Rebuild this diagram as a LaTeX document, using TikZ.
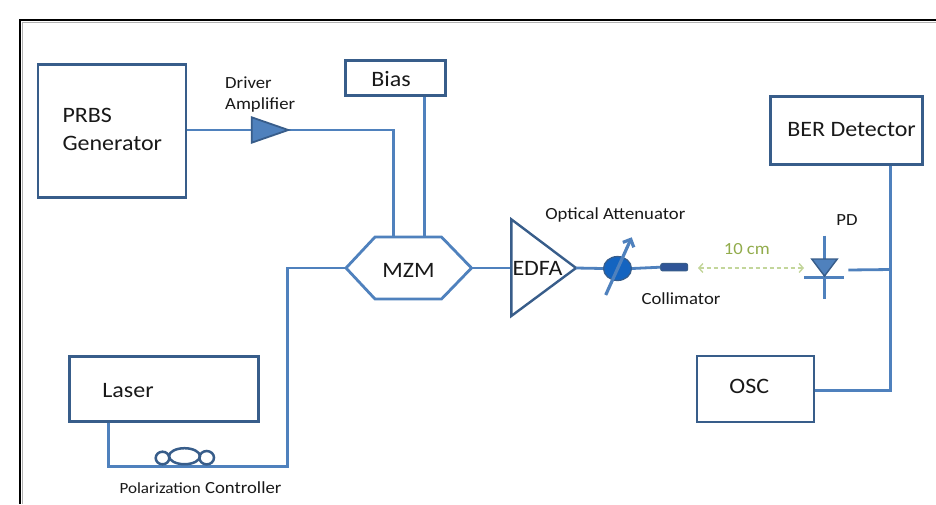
\documentclass[tikz,border=0pt]{standalone}
\usepackage{fontspec}
\setmainfont{Carlito}
\usetikzlibrary{arrows.meta,shapes.geometric}
\definecolor{lineblue}{RGB}{79,129,189}
\definecolor{boxblue}{RGB}{56,93,138}
\definecolor{txt}{RGB}{25,25,25}
\definecolor{attfill}{RGB}{20,100,192}
\definecolor{colfill}{RGB}{47,85,151}
\definecolor{dashgreen}{RGB}{195,214,155}
\definecolor{olivetxt}{RGB}{146,172,76}
\begin{document}
\begin{tikzpicture}[x=1pt,y=-1pt,
 box/.style={draw=boxblue,line width=2.8pt,fill=white,inner sep=0pt},
 big/.style={text=txt,font=\fontsize{22}{28}\selectfont,xscale=1.09,inner sep=0pt},
 small/.style={text=txt,font=\fontsize{17}{21}\selectfont,xscale=1.1,inner sep=0pt},
 wire/.style={draw=lineblue,line width=2.8pt,line join=miter},
]
\useasboundingbox (0,0) rectangle (936,504);
\fill[white] (0,0) rectangle (936,504);
% frame
\draw[black,line width=1.4pt] (936,20) -- (20,20) -- (20,504);
\draw[gray!60,line width=1.6pt] (936,22.6) -- (22.6,22.6) -- (22.6,504);

% boxes
\node[box,minimum width=148,minimum height=133] (prbs) at (112,131) {};
\node[box,minimum width=100,minimum height=35] (bias) at (395.5,78) {};
\node[box,minimum width=152.5,minimum height=68] (ber) at (846.6,130.8) {};
\node[box,minimum width=117,minimum height=66] (osc) at (755.5,389) {};
\node[box,minimum width=189,minimum height=65] (laser) at (163.8,388.7) {};

% coordinates
\coordinate (ampin) at (251.7,130);
\coordinate (ampout) at (288.3,130);
\coordinate (mzmA) at (393.3,238);
\coordinate (mzmB) at (424.3,238);
\coordinate (mzmL) at (346,268);
\coordinate (mzmR) at (471.5,268);
\coordinate (edfaL) at (511.3,268);
\coordinate (edfaR) at (576,268);
\coordinate (attA) at (605.7,295);
\coordinate (attB) at (631.7,237.3);
\coordinate (dA) at (698,268);
\coordinate (dB) at (804,268);
\coordinate (pdtop) at (824.3,235.7);
\coordinate (pdbot) at (824.3,299);
\coordinate (pdout) at (848.3,270);
\coordinate (jn) at (890.7,269.5);
\coordinate (corner) at (890.7,390.7);
\coordinate (lb) at (108.3,466.7);
\coordinate (lc) at (287.3,466.7);
\coordinate (lu) at (287.3,268);

% wires
\draw[wire] (prbs.east |- ampin) -- (ampin);
\draw[wire] (ampout) -| (mzmA);
\draw[wire] (bias.south -| mzmB) -- (mzmB);
\draw[wire] (mzmR) -- (edfaL);
\draw[wire] (laser.south -| lb) -- (lb) -- (lc) -- (lu) -- (mzmL);
\draw[wire] (ber.south -| jn) -- (corner) -- (corner -| osc.east);
\draw[wire] (pdout) -- (jn);

% driver amplifier
\draw[fill=lineblue,draw=boxblue,line width=1.8pt,line join=miter] (251.7,117.3) -- (ampout) -- (251.7,142.7) -- cycle;

% MZM
\draw[wire] (mzmL) -- (375,237) -- (441.5,237) -- (mzmR) -- (441.5,299) -- (375,299) -- cycle;

% EDFA
\draw[draw=boxblue,line width=2.4pt,fill=white,line join=miter] (511.3,219.3) -- (edfaR) -- (511.3,316) -- cycle;

% attenuator
\node[ellipse,draw=boxblue,fill=attfill,line width=1.2pt,minimum width=28,minimum height=24,inner sep=0pt] (att) at (617.5,268.5) {};
\draw[wire] (edfaR) -- (att.west);
\draw[lineblue,line width=3.2pt,-{Straight Barb[length=6pt,width=12pt]}] (attA) -- (attB);

% collimator
\node[draw=boxblue,fill=colfill,rounded corners=2pt,line width=1pt,minimum width=27,minimum height=7.5,inner sep=0pt] (col) at (674.2,267.2) {};
\draw[wire] (att.east) -- (col.west);

% distance arrow
\draw[dashgreen,line width=1.4pt,dash pattern=on 4pt off 3pt,{Straight Barb[length=4pt,width=9pt]}-{Straight Barb[length=4pt,width=9pt]}] (dA) -- (dB);

% photodiode
\draw[wire] (pdtop) -- (pdbot);
\draw[wire] (804,277.3) -- (844,277.3);
\draw[fill=lineblue,draw=boxblue,line width=1.4pt,line join=miter] (811.7,259) -- (837.3,259) -- (824.5,276) -- cycle;

% polarization controller
\draw[boxblue,line width=2.5pt] (162.5,458) circle[x radius=6.8,y radius=6.3];
\draw[boxblue,line width=2.5pt] (206.7,457.7) circle[x radius=7.3,y radius=6.7];
\draw[boxblue,line width=2.5pt] (184.5,456.2) circle[x radius=15.5,y radius=8];

% texts
\node[big,align=left,anchor=west] (prbst) at (62.3,129) {PRBS\\Generator};
\node[big] (biast) at (391,79) {Bias};
\node[big] (bert) at (851.6,130) {BER Detector};
\node[big] (osct) at (749.3,386) {OSC};
\node[big] (lasert) at (128,391) {Laser};
\node[big] (mzmt) at (408.5,270) {MZM};
\node[big] (edfat) at (537.5,268) {EDFA};
\node[small,align=left,anchor=west] (drv) at (225,95) {Driver\\Amplifier};
\node[small] (oatt) at (615.3,215) {Optical Attenuator};
\node[small] (coll) at (681,299) {Collimator};
\node[small] (pdt) at (847,220) {PD};
\node[small,text=olivetxt] (dist) at (746.8,249) {10 cm};
\node[small] (pc) at (200.5,487.5) {{\fontsize{15.5}{18}\selectfont Polarization} Controller};
\end{tikzpicture}
\end{document}
